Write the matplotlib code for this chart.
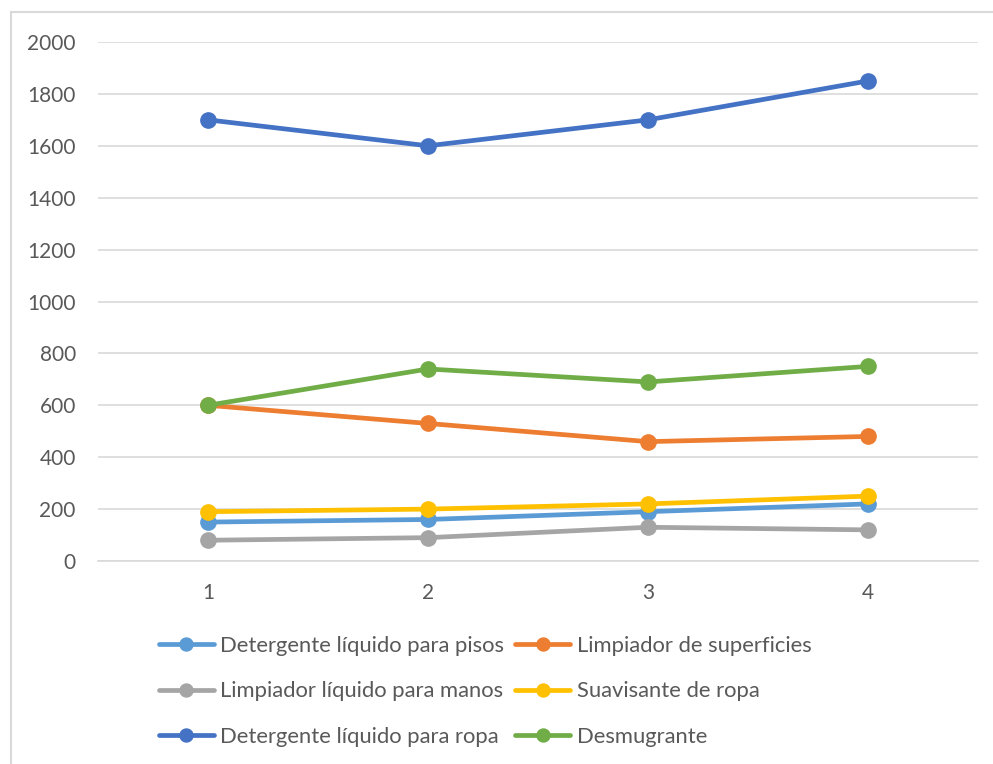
import matplotlib
matplotlib.use("Agg")
import matplotlib.pyplot as plt
from matplotlib.patches import Rectangle

periods = [1, 2, 3, 4]
series_names = [
    "Detergente líquido para pisos",
    "Limpiador de superficies",
    "Limpiador líquido para manos",
    "Suavisante de ropa",
    "Detergente líquido para ropa",
    "Desmugrante",
]
pisos = [150, 160, 190, 220]
superficies = [600, 530, 460, 480]
manos = [80, 90, 130, 120]
suavisante = [190, 200, 220, 250]
ropa = [1700, 1600, 1700, 1850]
desmugrante = [600, 740, 690, 750]
y_ticks = [0, 200, 400, 600, 800, 1000, 1200, 1400, 1600, 1800, 2000]

colors = ["#5B9BD5", "#ED7D31", "#A5A5A5", "#FFC000", "#4472C4", "#70AD47"]
values = [pisos, superficies, manos, suavisante, ropa, desmugrante]

plt.rcParams["font.family"] = ["Lato", "DejaVu Sans"]

W, H = 993, 764
fig = plt.figure(figsize=(W / 100, H / 100), dpi=100)

# chart-area border
fig.patches.append(Rectangle((11 / W, -0.05), 1.1, 1 - 12 / H + 0.05,
                             transform=fig.transFigure, fill=False,
                             edgecolor="#D9D9D9", linewidth=1.5))

ax = fig.add_axes([98 / W, 1 - 561 / H, (978 - 98) / W, (561 - 42) / H])
handles = []
for name, vals, c in zip(series_names, values, colors):
    h, = ax.plot(periods, vals, color=c, linewidth=3.4, marker="o", markersize=11,
                 solid_capstyle="round", label=name, clip_on=False)
    handles.append(h)

ax.set_xlim(0.5, 4.5)
ax.set_ylim(0, 2000)
ax.set_yticks(y_ticks)
ax.set_xticks(periods)
ax.grid(axis="y", color="#D9D9D9", linewidth=1.2)
ax.set_axisbelow(True)
for s in ["top", "right", "left"]:
    ax.spines[s].set_visible(False)
ax.spines["bottom"].set_color("#D9D9D9")
ax.spines["bottom"].set_linewidth(1.2)
ax.tick_params(axis="both", length=0, labelsize=15, colors="#595959")
ax.tick_params(axis="y", pad=16)
ax.tick_params(axis="x", pad=16)

# legend filled row by row: two entries per row
order = [0, 2, 4, 1, 3, 5]
leg = fig.legend([handles[i] for i in order], [series_names[i] for i in order],
                 loc="upper left", bbox_to_anchor=(150 / W, 1 - 627 / H),
                 ncol=2, frameon=False, fontsize=15.8, handlelength=2.5,
                 handletextpad=0.3, columnspacing=0.5, labelspacing=1.17,
                 borderaxespad=0, markerscale=0.85)
for t in leg.get_texts():
    t.set_color("#595959")

fig.savefig("out.png", dpi=100)
